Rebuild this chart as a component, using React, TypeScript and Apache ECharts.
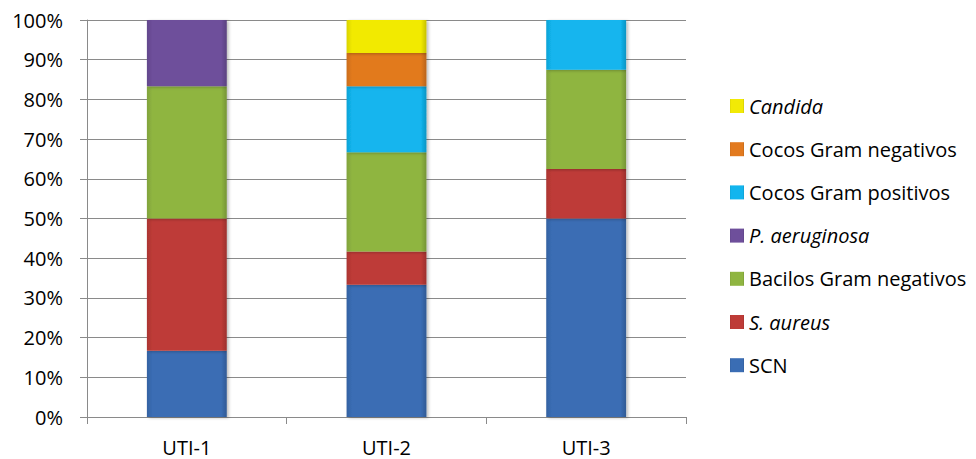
import React, { useEffect, useRef } from "react";
import * as echarts from "echarts";

// Units (ICU) on the x axis
const categories = ["UTI-1", "UTI-2", "UTI-3"];

// Percentage of isolates per group in each unit
const scn = [16.67, 33.33, 50];
const sAureus = [33.33, 8.33, 12.5];
const bacilosGramNeg = [33.33, 25, 25];
const pAeruginosa = [16.67, 0, 0];
const cocosGramPos = [0, 16.67, 12.5];
const cocosGramNeg = [0, 8.33, 0];
const candida = [0, 8.33, 0];

const yTicks = { min: 0, max: 100, interval: 10 };

const seriesDefs = [
  { name: "SCN", data: scn, color: "#3A6DB4", italic: false },
  { name: "S. aureus", data: sAureus, color: "#BE3B37", italic: true },
  { name: "Bacilos Gram negativos", data: bacilosGramNeg, color: "#8FB541", italic: false },
  { name: "P. aeruginosa", data: pAeruginosa, color: "#6E4F9B", italic: true },
  { name: "Cocos Gram positivos", data: cocosGramPos, color: "#12B5EE", italic: false },
  { name: "Cocos Gram negativos", data: cocosGramNeg, color: "#E27A1F", italic: false },
  { name: "Candida", data: candida, color: "#F2EA06", italic: true },
];

const FONT = "'Open Sans', sans-serif";
const FS = 20;
const AXIS_GREY = "#8a8a8a";

function shade(hex: string, f: number): string {
  const n = parseInt(hex.slice(1), 16);
  const r = Math.min(255, Math.round(((n >> 16) & 255) * f));
  const g = Math.min(255, Math.round(((n >> 8) & 255) * f));
  const b = Math.min(255, Math.round((n & 255) * f));
  return `rgb(${r},${g},${b})`;
}

export default function App() {
  const ref = useRef<HTMLDivElement>(null);

  useEffect(() => {
    if (!ref.current) return;
    const chart = echarts.init(ref.current, undefined, { renderer: "svg" });
    const italicNames = new Set(seriesDefs.filter((s) => s.italic).map((s) => s.name));

    chart.setOption({
      animation: false,
      backgroundColor: "#ffffff",
      grid: { left: 87, right: 290, top: 20, bottom: 42 },
      legend: {
        orient: "vertical",
        left: 725,
        top: 91,
        itemWidth: 14,
        itemHeight: 14,
        itemGap: 23.2,
        icon: "rect",
        data: seriesDefs.map((s) => s.name).reverse(),
        formatter: (name: string) =>
          italicNames.has(name) ? `{i|${name}}` : `{n|${name}}`,
        textStyle: {
          fontFamily: FONT,
          fontSize: FS,
          lineHeight: 20,
          color: "#000",
          rich: {
            i: { fontFamily: FONT, fontSize: FS, lineHeight: 20, fontStyle: "italic", color: "#000" },
            n: { fontFamily: FONT, fontSize: FS, lineHeight: 20, color: "#000" },
          },
        },
      },
      xAxis: {
        type: "category",
        data: categories,
        axisLine: { show: true, lineStyle: { color: AXIS_GREY, width: 1 } },
        axisTick: { show: true, length: 7, lineStyle: { color: AXIS_GREY } },
        axisLabel: { fontFamily: FONT, fontSize: FS, color: "#000", margin: 20 },
      },
      yAxis: {
        type: "value",
        min: yTicks.min,
        max: yTicks.max,
        interval: yTicks.interval,
        axisLine: { show: true, lineStyle: { color: AXIS_GREY, width: 1 } },
        axisTick: { show: true, length: 7, lineStyle: { color: AXIS_GREY } },
        axisLabel: {
          fontFamily: FONT,
          fontSize: FS,
          color: "#000",
          margin: 24,
          formatter: "{value}%",
        },
        splitLine: { show: true, lineStyle: { color: AXIS_GREY, width: 1 } },
      },
      series: seriesDefs.map((s) => ({
        name: s.name,
        type: "bar",
        stack: "total",
        barWidth: "40%",
        data: s.data.map((v) => (v === 0 ? null : v)),
        itemStyle: {
          color: {
            type: "linear",
            x: 0,
            y: 0,
            x2: 1,
            y2: 0,
            colorStops: [
              { offset: 0, color: shade(s.color, 0.9) },
              { offset: 0.07, color: s.color },
              { offset: 0.93, color: s.color },
              { offset: 1, color: shade(s.color, 0.82) },
            ],
          },
          shadowColor: "rgba(0,0,0,0.25)",
          shadowBlur: 3,
          shadowOffsetX: 2,
          shadowOffsetY: 1,
        },
        emphasis: { disabled: true },
      })),
    });

    return () => chart.dispose();
  }, []);

  return (
    <div
      ref={ref}
      style={{ position: "absolute", left: 0, top: 0, width: 976, height: 459 }}
    />
  );
}
